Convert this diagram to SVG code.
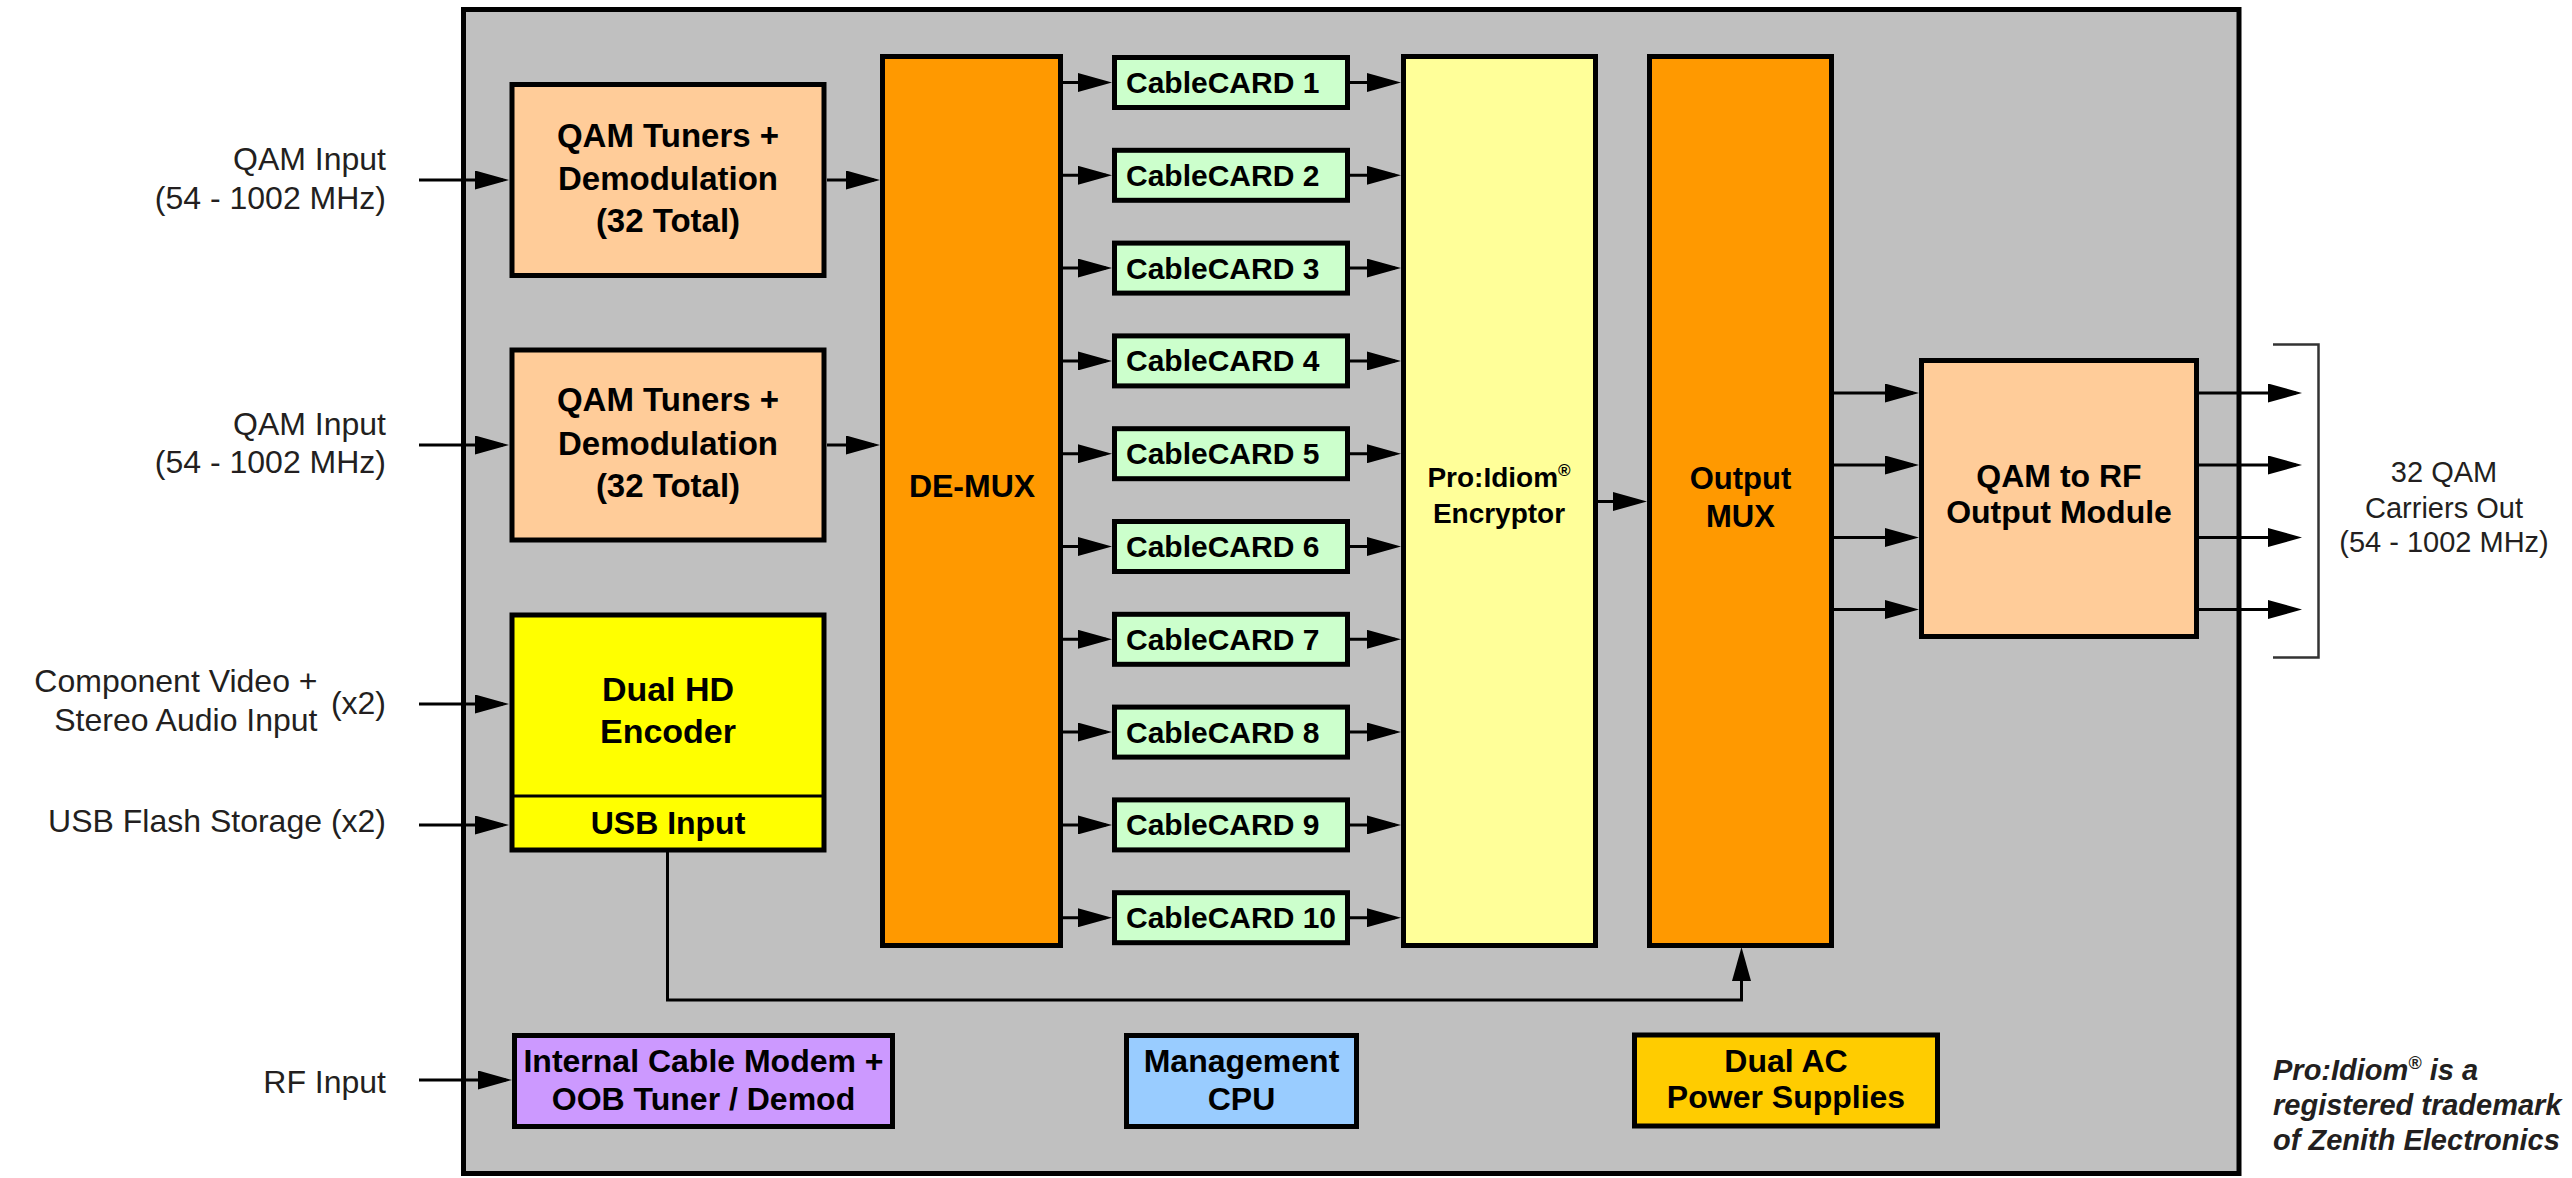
<svg xmlns="http://www.w3.org/2000/svg" width="2572" height="1178" viewBox="0 0 2572 1178">
<style>
.box{stroke:#000;stroke-width:5}
.bt{font-family:"Liberation Sans",Arial,sans-serif;font-weight:bold;fill:#000;text-anchor:middle}
.lbl{font-family:"Liberation Sans",Arial,sans-serif;fill:#231f20;font-size:32px;text-anchor:end}
.rl{font-family:"Liberation Sans",Arial,sans-serif;fill:#231f20;font-size:29px;text-anchor:middle}
.tm{font-family:"Liberation Sans",Arial,sans-serif;fill:#231f20;font-size:29px;font-weight:bold;font-style:italic}
.cc{fill:#ccffcc;stroke:#000;stroke-width:5}
.cct{font-family:"Liberation Sans",Arial,sans-serif;font-weight:bold;font-size:30px;fill:#000}
.arr{stroke:#000;stroke-width:3;fill:none;marker-end:url(#ah)}
</style>
<defs>
<marker id="ah" markerUnits="userSpaceOnUse" viewBox="0 0 34 19" refX="28" refY="9.5" markerWidth="34" markerHeight="19" orient="auto"><path d="M0,0 L34,9.5 L0,19 z" fill="#000"/></marker>
</defs>
<rect x="0" y="0" width="2572" height="1178" fill="#fff"/>
<g id="enclosure"><rect x="463.5" y="9.5" width="1775.5" height="1164" fill="#c0c0c0" stroke="#000" stroke-width="5"/></g>

<g id="qam-tuners-1"><rect class="box" x="512" y="84.5" width="312" height="191" fill="#ffcc99"/>
<text class="bt" font-size="33" x="668" y="147">QAM Tuners +</text>
<text class="bt" font-size="33" x="668" y="190">Demodulation</text>
<text class="bt" font-size="33" x="668" y="232">(32 Total)</text></g>

<g id="qam-tuners-2"><rect class="box" x="512" y="350" width="312" height="190" fill="#ffcc99"/>
<text class="bt" font-size="33" x="668" y="411">QAM Tuners +</text>
<text class="bt" font-size="33" x="668" y="454.5">Demodulation</text>
<text class="bt" font-size="33" x="668" y="496.5">(32 Total)</text></g>

<g id="hd-encoder"><rect class="box" x="512" y="615" width="312" height="235" fill="#ffff00"/>
<line x1="512" y1="796" x2="824" y2="796" stroke="#000" stroke-width="3"/>
<text class="bt" font-size="34" x="668" y="701">Dual HD</text>
<text class="bt" font-size="34" x="668" y="743">Encoder</text>
<text class="bt" font-size="32" x="668" y="834">USB Input</text></g>

<g id="demux"><rect class="box" x="882.5" y="56.5" width="178" height="889" fill="#ff9900"/>
<text class="bt" font-size="32" x="972" y="497">DE-MUX</text></g>

<g id="cablecard-1"><rect class="cc" x="1114.5" y="57.5" width="233" height="50"/><text class="cct" x="1126" y="93">CableCARD 1</text></g>
<g id="cablecard-2"><rect class="cc" x="1114.5" y="150.3" width="233" height="50"/><text class="cct" x="1126" y="185.8">CableCARD 2</text></g>
<g id="cablecard-3"><rect class="cc" x="1114.5" y="243.1" width="233" height="50"/><text class="cct" x="1126" y="278.6">CableCARD 3</text></g>
<g id="cablecard-4"><rect class="cc" x="1114.5" y="335.9" width="233" height="50"/><text class="cct" x="1126" y="371.4">CableCARD 4</text></g>
<g id="cablecard-5"><rect class="cc" x="1114.5" y="428.7" width="233" height="50"/><text class="cct" x="1126" y="464.2">CableCARD 5</text></g>
<g id="cablecard-6"><rect class="cc" x="1114.5" y="521.5" width="233" height="50"/><text class="cct" x="1126" y="557">CableCARD 6</text></g>
<g id="cablecard-7"><rect class="cc" x="1114.5" y="614.3" width="233" height="50"/><text class="cct" x="1126" y="649.8">CableCARD 7</text></g>
<g id="cablecard-8"><rect class="cc" x="1114.5" y="707.1" width="233" height="50"/><text class="cct" x="1126" y="742.6">CableCARD 8</text></g>
<g id="cablecard-9"><rect class="cc" x="1114.5" y="799.9" width="233" height="50"/><text class="cct" x="1126" y="835.4">CableCARD 9</text></g>
<g id="cablecard-10"><rect class="cc" x="1114.5" y="892.7" width="233" height="50"/><text class="cct" x="1126" y="928.2">CableCARD 10</text></g>

<g id="proidiom-encryptor"><rect class="box" x="1403.5" y="56.5" width="192" height="889" fill="#ffff99"/>
<text class="bt" font-size="28" x="1499" y="487">Pro:Idiom<tspan font-size="17" dy="-11">®</tspan></text>
<text class="bt" font-size="28" x="1499" y="523">Encryptor</text></g>

<g id="output-mux"><rect class="box" x="1649.5" y="56.5" width="182" height="889" fill="#ff9900"/>
<text class="bt" font-size="31" x="1740.5" y="489">Output</text>
<text class="bt" font-size="31" x="1740.5" y="527">MUX</text></g>

<g id="qam-to-rf"><rect class="box" x="1921.5" y="360.5" width="275" height="276" fill="#ffcc99"/>
<text class="bt" font-size="32" x="2059" y="487">QAM to RF</text>
<text class="bt" font-size="32" x="2059" y="523">Output Module</text></g>

<g id="cable-modem"><rect class="box" x="514.5" y="1035.5" width="378" height="91" fill="#cc99ff"/>
<text class="bt" font-size="32" x="703.5" y="1072">Internal Cable Modem +</text>
<text class="bt" font-size="32" x="703.5" y="1110">OOB Tuner / Demod</text></g>

<g id="management-cpu"><rect class="box" x="1126.5" y="1035.5" width="230" height="91" fill="#99ccff"/>
<text class="bt" font-size="32" x="1241.5" y="1072">Management</text>
<text class="bt" font-size="32" x="1241.5" y="1109.5">CPU</text></g>

<g id="power-supplies"><rect class="box" x="1634.5" y="1035" width="303" height="91" fill="#ffcc00"/>
<text class="bt" font-size="32" x="1786" y="1072">Dual AC</text>
<text class="bt" font-size="32" x="1786" y="1108">Power Supplies</text></g>

<g id="input-labels">
<text class="lbl" x="386" y="170">QAM Input</text>
<text class="lbl" x="386" y="208.5">(54 - 1002 MHz)</text>
<text class="lbl" x="386" y="434.5">QAM Input</text>
<text class="lbl" x="386" y="472.5">(54 - 1002 MHz)</text>
<text class="lbl" x="317.5" y="692">Component Video +</text>
<text class="lbl" x="317.5" y="730.5">Stereo Audio Input</text>
<text class="lbl" x="386" y="713.5">(x2)</text>
<text class="lbl" x="386" y="832">USB Flash Storage (x2)</text>
<text class="lbl" x="386" y="1093">RF Input</text>
</g>

<g id="output-label">
<text class="rl" x="2444" y="482">32 QAM</text>
<text class="rl" x="2444" y="518">Carriers Out</text>
<text class="rl" x="2444" y="552">(54 - 1002 MHz)</text>
</g>

<g id="trademark-note">
<text class="tm" x="2273" y="1080">Pro:Idiom<tspan font-size="18" dy="-11">®</tspan><tspan dy="11"> is a</tspan></text>
<text class="tm" x="2273" y="1115">registered trademark</text>
<text class="tm" x="2273" y="1150">of Zenith Electronics</text>
</g>

<g id="connectors">
<line class="arr" x1="419" y1="180" x2="503" y2="180"/>
<line class="arr" x1="419" y1="445" x2="503" y2="445"/>
<line class="arr" x1="419" y1="704" x2="503" y2="704"/>
<line class="arr" x1="419" y1="825" x2="503" y2="825"/>
<line class="arr" x1="419" y1="1080" x2="506" y2="1080"/>
<line class="arr" x1="827" y1="180" x2="874" y2="180"/>
<line class="arr" x1="827" y1="445" x2="874" y2="445"/>
<line class="arr" x1="1063" y1="82.5" x2="1106" y2="82.5"/>
<line class="arr" x1="1063" y1="175.3" x2="1106" y2="175.3"/>
<line class="arr" x1="1063" y1="268.1" x2="1106" y2="268.1"/>
<line class="arr" x1="1063" y1="360.9" x2="1106" y2="360.9"/>
<line class="arr" x1="1063" y1="453.7" x2="1106" y2="453.7"/>
<line class="arr" x1="1063" y1="546.5" x2="1106" y2="546.5"/>
<line class="arr" x1="1063" y1="639.3" x2="1106" y2="639.3"/>
<line class="arr" x1="1063" y1="732.1" x2="1106" y2="732.1"/>
<line class="arr" x1="1063" y1="824.9" x2="1106" y2="824.9"/>
<line class="arr" x1="1063" y1="917.7" x2="1106" y2="917.7"/>
<line class="arr" x1="1350" y1="82.5" x2="1395" y2="82.5"/>
<line class="arr" x1="1350" y1="175.3" x2="1395" y2="175.3"/>
<line class="arr" x1="1350" y1="268.1" x2="1395" y2="268.1"/>
<line class="arr" x1="1350" y1="360.9" x2="1395" y2="360.9"/>
<line class="arr" x1="1350" y1="453.7" x2="1395" y2="453.7"/>
<line class="arr" x1="1350" y1="546.5" x2="1395" y2="546.5"/>
<line class="arr" x1="1350" y1="639.3" x2="1395" y2="639.3"/>
<line class="arr" x1="1350" y1="732.1" x2="1395" y2="732.1"/>
<line class="arr" x1="1350" y1="824.9" x2="1395" y2="824.9"/>
<line class="arr" x1="1350" y1="917.7" x2="1395" y2="917.7"/>
<line class="arr" x1="1598" y1="501.5" x2="1641" y2="501.5"/>
<line class="arr" x1="1834" y1="393" x2="1913" y2="393"/>
<line class="arr" x1="1834" y1="465" x2="1913" y2="465"/>
<line class="arr" x1="1834" y1="537.5" x2="1913" y2="537.5"/>
<line class="arr" x1="1834" y1="609.5" x2="1913" y2="609.5"/>
<line class="arr" x1="2199" y1="393" x2="2296" y2="393"/>
<line class="arr" x1="2199" y1="465" x2="2296" y2="465"/>
<line class="arr" x1="2199" y1="537.5" x2="2296" y2="537.5"/>
<line class="arr" x1="2199" y1="609.5" x2="2296" y2="609.5"/>
<path class="arr" d="M667.5,852 V1000 H1741.5 V953"/>
<path d="M2273,344.5 H2318.5 V657.5 H2273" fill="none" stroke="#333" stroke-width="2.5"/>
</g>
</svg>
